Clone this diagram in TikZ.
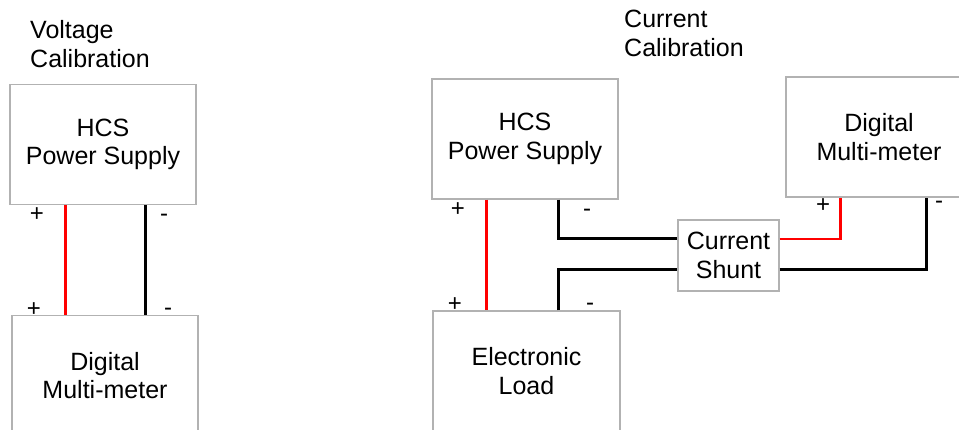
\documentclass[tikz,border=0pt]{standalone}
\usepackage{fontspec}
\setmainfont{Liberation Sans}
\tikzset{
  unit/.style={draw=black!30, fill=white, line width=1.2pt, minimum width=186pt, minimum height=120pt,
    align=center, inner sep=0pt, font=\fontsize{25}{28.5}\selectfont},
  wire/.style={line width=3pt},
  redwire/.style={line width=2.5pt, draw=red},
  pol/.style={anchor=base, inner sep=0pt, font=\fontsize{24}{28}\selectfont},
  title/.style={anchor=base west, align=left, inner sep=0pt, font=\fontsize{25}{29}\selectfont},
}
\begin{document}
\begin{tikzpicture}[x=1pt, y=-1pt]
      \clip (0,0) rectangle (959,430);
      % voltage calibration
      \node[title] (vtitle) at (30,68) {Voltage\\Calibration};
      \node[unit] (psv) at (103,144.5) {HCS\\Power Supply};
      \node[unit] (dmmv) at (105,375.5) {Digital\\Multi-meter};
      \coordinate (psvp) at ([xshift=56pt]psv.south west);
      \coordinate (psvm) at ([xshift=136pt]psv.south west);
      \draw[redwire] (psvp) -- (psvp |- dmmv.north);
      \draw[wire] (psvm) -- (psvm |- dmmv.north);
      \node[pol] (psvplus) at (37,221.5) {+};
      \node[pol] (psvminus) at (164,221.5) {-};
      \node[pol] (dmmvplus) at (34,316.5) {+};
      \node[pol] (dmmvminus) at (168,316) {-};
      % current calibration
      \node[title] (ctitle) at (624,57) {Current\\Calibration};
      \node[unit] (psc) at (525,139) {HCS\\Power Supply};
      \node[unit, minimum width=187pt] (load) at (526.5,371) {Electronic\\Load};
      \node[unit, minimum width=101pt, minimum height=71pt] (shunt) at (728.5,255.5) {Current\\Shunt};
      \node[unit] (dmmc) at (879,137) {Digital\\Multi-meter};
      \coordinate (pscp) at ([xshift=55pt]psc.south west);
      \coordinate (pscm) at ([xshift=127pt]psc.south west);
      \coordinate (dmmcp) at ([xshift=55pt]dmmc.south west);
      \coordinate (dmmcm) at ([xshift=141pt]dmmc.south west);
      \draw[redwire] (pscp) -- (pscp |- load.north);
      \draw[wire] (pscm) |- ([yshift=16.5pt]shunt.west);
      \draw[wire] (pscm |- load.north) |- ([yshift=-14.5pt]shunt.west);
      \draw[redwire] ([yshift=16.5pt]shunt.east) -| (dmmcp);
      \draw[wire] ([yshift=-14.5pt]shunt.east) -| (dmmcm);
      \node[pol] (pscplus) at (458,216.5) {+};
      \node[pol] (pscminus) at (587,217) {-};
      \node[pol] (loadplus) at (455,311.5) {+};
      \node[pol] (loadminus) at (590,311) {-};
      \node[pol] (dmmcplus) at (823,212.5) {+};
      \node[pol] (dmmcminus) at (939,209) {-};
\end{tikzpicture}
\end{document}
